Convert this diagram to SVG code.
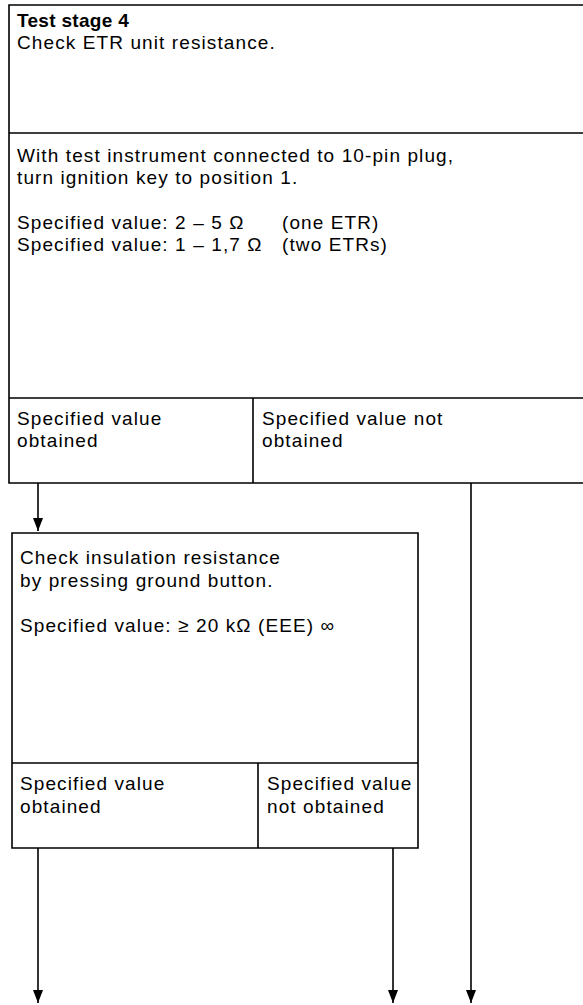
<svg xmlns="http://www.w3.org/2000/svg" width="583" height="1005" viewBox="0 0 583 1005">
<defs>
<style>
.t{font-family:"Liberation Sans",Arial,sans-serif;font-size:19px;fill:#000;letter-spacing:1.1px}
.b{font-weight:bold;letter-spacing:0.3px}
.ln{stroke:#000;stroke-width:1.6;fill:none}
</style>
<marker id="ah" markerWidth="14" markerHeight="10" refX="13" refY="5" orient="auto" markerUnits="userSpaceOnUse" viewBox="0 0 14 10">
<path d="M0,0 L13,5 L0,10 Z" fill="#000"/>
</marker>
</defs>
<rect width="583" height="1005" fill="#fff"/>
<g id="stage">
<path class="ln" d="M583,5 H9 V483 H583 M9,133 H583 M9,398 H583 M253,398 V483"/>
<text class="t b" x="17" y="27">Test stage 4</text>
<text class="t" x="17" y="49">Check ETR unit resistance.</text>
<text class="t" x="17" y="162">With test instrument connected to 10-pin plug,</text>
<text class="t" x="17" y="184">turn ignition key to position 1.</text>
<text class="t" x="17" y="229">Specified value: 2 – 5 Ω</text>
<text class="t" x="282" y="229">(one ETR)</text>
<text class="t" x="17" y="251">Specified value: 1 – 1,7 Ω</text>
<text class="t" x="282" y="251">(two ETRs)</text>
<text class="t" x="17" y="425">Specified value</text>
<text class="t" x="17" y="447">obtained</text>
<text class="t" x="262" y="425">Specified value not</text>
<text class="t" x="262" y="447">obtained</text>
</g>
<g id="insulation">
<path class="ln" d="M12,533 H418 V848 H12 Z M12,763 H418 M258,763 V848"/>
<text class="t" x="20" y="564">Check insulation resistance</text>
<text class="t" x="20" y="587">by pressing ground button.</text>
<text class="t" x="20" y="632">Specified value: ≥ 20 kΩ (EEE) ∞</text>
<text class="t" x="20" y="790">Specified value</text>
<text class="t" x="20" y="813">obtained</text>
<text class="t" x="267" y="790">Specified value</text>
<text class="t" x="267" y="813">not obtained</text>
</g>
<g id="connectors">
<line class="ln" x1="38" y1="483" x2="38" y2="531" marker-end="url(#ah)"/>
<line class="ln" x1="471" y1="483" x2="471" y2="1003" marker-end="url(#ah)"/>
<line class="ln" x1="38" y1="848" x2="38" y2="1003" marker-end="url(#ah)"/>
<line class="ln" x1="393" y1="848" x2="393" y2="1003" marker-end="url(#ah)"/>
</g>
</svg>
